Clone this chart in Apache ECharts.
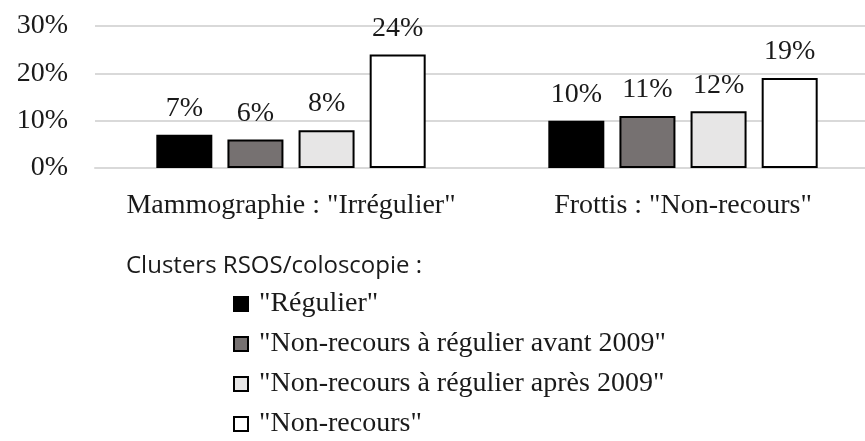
<!DOCTYPE html>
<html>
<head>
<meta charset="utf-8">
<script src="https://cdn.jsdelivr.net/npm/echarts@6/dist/echarts.min.js"></script>
<style>
  html, body { margin: 0; padding: 0; background: #fff; }
  #chart { width: 865px; height: 441px; }
</style>
</head>
<body>
<div id="chart"></div>
<script>
const categories = ['Mammographie : "Irrégulier"', 'Frottis : "Non-recours"']
const seriesNames = [
  '"Régulier"',
  '"Non-recours à régulier avant 2009"',
  '"Non-recours à régulier après 2009"',
  '"Non-recours"'
]
const regulier = [7, 10]
const avant2009 = [6, 11]
const apres2009 = [8, 12]
const nonRecours = [24, 19]
const yTicks = [0, 10, 20, 30]

const colors = ['#000000', '#767171', '#e7e6e6', '#ffffff']
const serif = '"Liberation Serif", "Times New Roman", serif'
const textColor = '#1a1a1a'

const chart = echarts.init(document.getElementById('chart'))

const makeSeries = (name, data, i) => ({
  name,
  type: 'bar',
  data,
  barWidth: 56,
  barGap: '27%',
  itemStyle: {
    color: colors[i],
    borderColor: '#000',
    borderWidth: 2
  },
  label: {
    show: true,
    position: 'top',
    distance: 12,
    color: textColor,
    fontFamily: serif,
    fontSize: 28,
    formatter: (p) => p.value + '%'
  }
})

chart.setOption({
  animation: false,
  title: {
    text: 'Clusters RSOS/coloscopie :',
    left: 121,
    top: 249,
    textStyle: {
      fontFamily: '"Open Sans", "Noto Sans", sans-serif',
      fontWeight: 'normal',
      fontSize: 24,
      color: textColor
    }
  },
  legend: {
    orient: 'vertical',
    left: 233,
    top: 290,
    padding: 0,
    height: 151,
    itemWidth: 14,
    itemHeight: 14,
    itemGap: 12,
    icon: 'rect',
    data: seriesNames,
    textStyle: {
      fontFamily: serif,
      fontSize: 28,
      lineHeight: 28,
      color: textColor,
      padding: [0, 0, 0, 6]
    }
  },
  grid: {
    left: 95,
    right: -14,
    top: 26,
    bottom: 441 - 168,
    containLabel: false,
    outerBoundsMode: 'none'
  },
  xAxis: {
    type: 'category',
    data: categories,
    axisLine: { show: true, lineStyle: { color: '#d9d9d9', width: 2 } },
    axisTick: { show: false },
    axisLabel: {
      interval: 0,
      color: textColor,
      fontFamily: serif,
      fontSize: 28,
      margin: 24
    }
  },
  yAxis: {
    type: 'value',
    min: yTicks[0],
    max: yTicks[yTicks.length - 1],
    interval: 10,
    axisLine: { show: false },
    axisTick: { show: false },
    splitLine: { lineStyle: { color: '#d9d9d9', width: 2 } },
    axisLabel: {
      color: textColor,
      fontFamily: serif,
      fontSize: 28,
      margin: 27,
      formatter: '{value}%'
    }
  },
  series: [
    makeSeries(seriesNames[0], regulier, 0),
    makeSeries(seriesNames[1], avant2009, 1),
    makeSeries(seriesNames[2], apres2009, 2),
    makeSeries(seriesNames[3], nonRecours, 3)
  ]
})
</script>
</body>
</html>
